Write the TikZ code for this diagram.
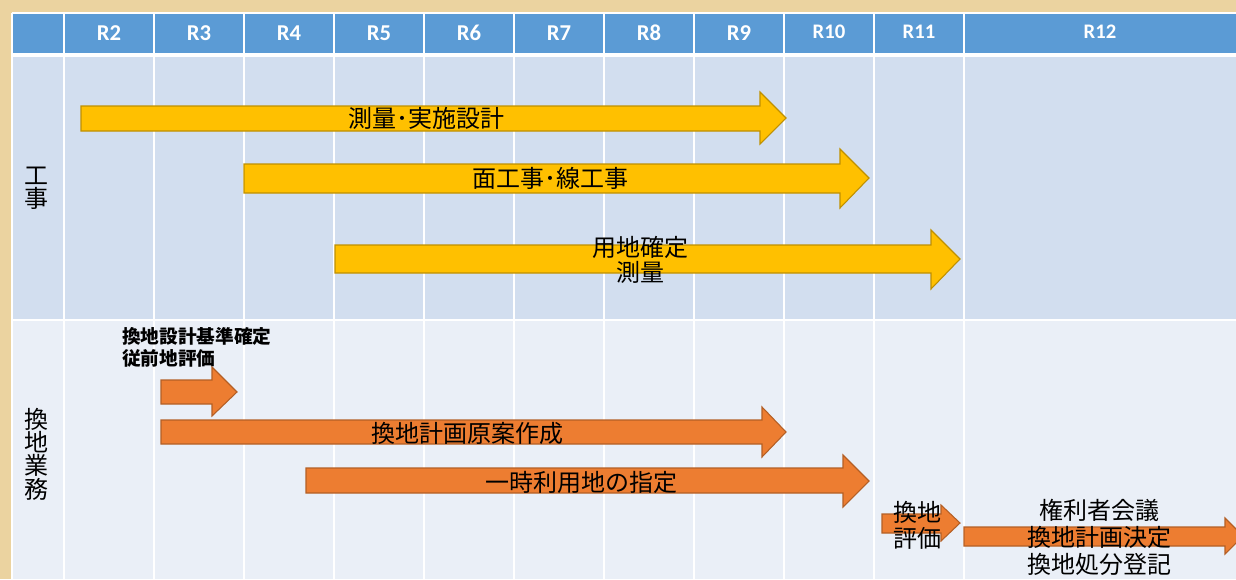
\documentclass[tikz,border=0pt]{standalone}
\usepackage{fontspec}
\setsansfont{Carlito}
\newfontfamily\jpfont{Noto Sans CJK JP}
\definecolor{paper}{HTML}{EBD3A0}
\definecolor{head}{HTML}{5B9BD5}
\definecolor{bandA}{HTML}{D2DEEF}
\definecolor{bandB}{HTML}{EAEFF7}
\definecolor{gold}{HTML}{FFC000}
\definecolor{golddark}{HTML}{BF9000}
\definecolor{orng}{HTML}{ED7D31}
\definecolor{orngdark}{HTML}{B45F25}
\begin{document}
\begin{tikzpicture}[x=0.75pt,y=-0.75pt,
  year/.style={font=\sffamily\bfseries\fontsize{17}{20}\selectfont,text=white,inner sep=0pt},
  late year/.style={year,font=\sffamily\bfseries\fontsize{15.5}{18}\selectfont},
  grid line/.style={draw=white,line width=1.1pt},
  yarrow/.style={fill=gold,draw=golddark,line width=0.8pt,line join=miter},
  oarrow/.style={fill=orng,draw=orngdark,line width=0.8pt,line join=miter},
  task/.style={font=\jpfont\fontsize{18}{19}\selectfont,align=center,inner sep=0pt},
  side/.style={task,font=\jpfont\fontsize{18}{17.5}\selectfont},
  note/.style={font=\jpfont\bfseries\fontsize{14}{17}\selectfont,align=left,inner sep=0pt}]

  \useasboundingbox (0,0) rectangle (1236,579);
  \fill[paper] (0,0) rectangle (1236,579);

  % table
  \fill[head] (12,13) rectangle (1236,55);
  \fill[bandA] (12,55) rectangle (1236,320);
  \fill[bandB] (12,320) rectangle (1236,579);
  \draw[grid line] (12,13) -- (1236,13);
  \draw[grid line] (12,13) -- (12,579);
  \draw[draw=white,line width=2.4pt] (12,55) -- (1236,55);
  \draw[grid line] (12,320) -- (1236,320);
  \draw[grid line] (64,13) -- (64,579);
  \draw[grid line] (154,13) -- (154,579);
  \draw[grid line] (244,13) -- (244,579);
  \draw[grid line] (334,13) -- (334,579);
  \draw[grid line] (424,13) -- (424,579);
  \draw[grid line] (514,13) -- (514,579);
  \draw[grid line] (604,13) -- (604,579);
  \draw[grid line] (694,13) -- (694,579);
  \draw[grid line] (784,13) -- (784,579);
  \draw[grid line] (874,13) -- (874,579);
  \draw[grid line] (964,13) -- (964,579);

  \node[year] (r2) at (109,33) {R2};
  \node[year] (r3) at (199,33) {R3};
  \node[year] (r4) at (289,33) {R4};
  \node[year] (r5) at (379,33) {R5};
  \node[year] (r6) at (469,33) {R6};
  \node[year] (r7) at (559,33) {R7};
  \node[year] (r8) at (649,33) {R8};
  \node[year] (r9) at (739,33) {R9};
  \node[late year] (r10) at (829,32) {R10};
  \node[late year] (r11) at (919,32) {R11};
  \node[late year] (r12) at (1100,32) {R12};

  \node[side] (koji) at (37,188) {工\\事};
  \node[side] (kanchi) at (37,454) {換\\地\\業\\務};

  % works
  \draw[yarrow] (81,106) -- (760,106) -- (760,92) -- (786,118) -- (760,144) -- (760,131) -- (81,131) -- cycle;
  \draw[yarrow] (244,164) -- (840,164) -- (840,149) -- (869,178) -- (840,208) -- (840,193) -- (244,193) -- cycle;
  \draw[yarrow] (335,245) -- (931,245) -- (931,230) -- (960,259) -- (931,289) -- (931,273) -- (335,273) -- cycle;

  % replotting
  \draw[oarrow] (161,380) -- (212,380) -- (212,367) -- (237,392) -- (212,416) -- (212,404) -- (161,404) -- cycle;
  \draw[oarrow] (161,420) -- (762,420) -- (762,407) -- (786,432) -- (762,457) -- (762,444) -- (161,444) -- cycle;
  \draw[oarrow] (306,468) -- (843,468) -- (843,455) -- (869,481) -- (843,507) -- (843,493) -- (306,493) -- cycle;
  \draw[oarrow] (882,514) -- (941,514) -- (941,505) -- (960,523) -- (941,541) -- (941,533) -- (882,533) -- cycle;
  \draw[oarrow] (964,527) -- (1225,527) -- (1225,518) -- (1243,536) -- (1225,554) -- (1225,546) -- (964,546) -- cycle;

  \node[task] (sokuryo) at (426,118) {測量･実施設計};
  \node[task] (menkoji) at (550,178) {面工事･線工事};
  \node[task,font=\jpfont\fontsize{18}{18.75}\selectfont] (yochi) at (640,259.5) {用地確定\\測量};

  \node[note,anchor=west] (kijun) at (122,347.5) {換地設計基準確定\\従前地評価};
  \node[task] (genan) at (467,433) {換地計画原案作成};
  \node[task] (ichiji) at (581,482) {一時利用地の指定};
  \node[task,font=\jpfont\fontsize{18}{19.5}\selectfont] (hyoka) at (917,525) {換地\\評価};
  \node[task,font=\jpfont\fontsize{18}{20.25}\selectfont] (kaigi) at (1099,537) {権利者会議\\換地計画決定\\換地処分登記};
\end{tikzpicture}
\end{document}
